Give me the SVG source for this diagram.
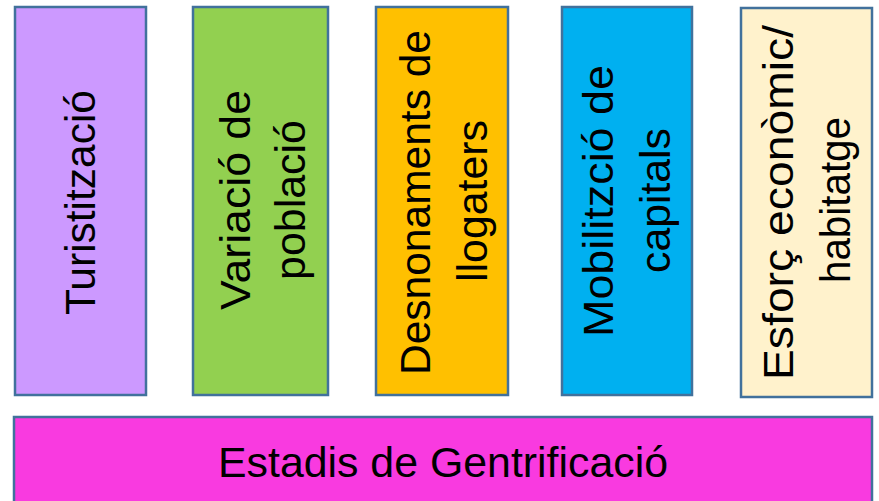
<svg xmlns="http://www.w3.org/2000/svg" width="879" height="501" viewBox="0 0 879 501">
<style>
.box{stroke:#41719C;stroke-width:2.5}
.t{font-family:"Liberation Sans",Arial,sans-serif;font-size:43px;fill:#000;text-anchor:middle}
</style>
<rect width="879" height="501" fill="#FFFFFF"/>
<g id="n1">
<rect class="box" x="15" y="7" width="131" height="388" fill="#CC99FF"/>
<text class="t" transform="translate(95,202.5) rotate(-90)" textLength="225" lengthAdjust="spacingAndGlyphs">Turistització</text>
</g>
<g id="n2">
<rect class="box" x="193" y="7" width="135" height="388" fill="#92D050"/>
<text class="t" transform="translate(250,200) rotate(-90)" textLength="220" lengthAdjust="spacingAndGlyphs">Variació de</text>
<text class="t" transform="translate(305,200) rotate(-90)" textLength="160" lengthAdjust="spacingAndGlyphs">població</text>
</g>
<g id="n3">
<rect class="box" x="376" y="7" width="132" height="388" fill="#FFC000"/>
<text class="t" transform="translate(430,202.5) rotate(-90)" textLength="345" lengthAdjust="spacingAndGlyphs">Desnonaments de</text>
<text class="t" transform="translate(487,201) rotate(-90)" textLength="162" lengthAdjust="spacingAndGlyphs">llogaters</text>
</g>
<g id="n4">
<rect class="box" x="562" y="7" width="130" height="388" fill="#00B0F0"/>
<text class="t" transform="translate(613,201) rotate(-90)" textLength="272" lengthAdjust="spacingAndGlyphs">Mobilitzció de</text>
<text class="t" transform="translate(670,200.5) rotate(-90)" textLength="145" lengthAdjust="spacingAndGlyphs">capitals</text>
</g>
<g id="n5">
<rect class="box" x="741" y="8" width="131" height="389" fill="#FFF2CC"/>
<text class="t" transform="translate(793,202.5) rotate(-90)" textLength="355" lengthAdjust="spacingAndGlyphs">Esforç econòmic/</text>
<text class="t" transform="translate(850,200) rotate(-90)" textLength="166" lengthAdjust="spacingAndGlyphs">habitatge</text>
</g>
<g id="n6">
<rect class="box" x="14" y="417" width="858" height="100" fill="#F93AE0"/>
<text class="t" x="443" y="477" font-size="42" textLength="450" lengthAdjust="spacingAndGlyphs">Estadis de Gentrificació</text>
</g>
<g id="connectors"></g>
</svg>
